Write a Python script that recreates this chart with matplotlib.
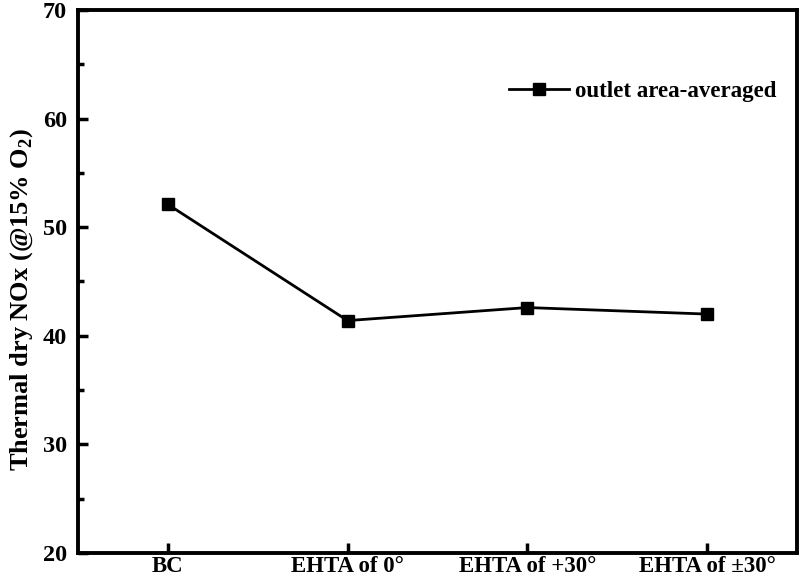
import matplotlib
matplotlib.use('Agg')
import matplotlib.pyplot as plt
from matplotlib.ticker import MultipleLocator

plt.rcParams['font.family'] = ['Liberation Serif', 'DejaVu Serif']
plt.rcParams['font.weight'] = 'bold'
plt.rcParams['mathtext.fontset'] = 'custom'
plt.rcParams['mathtext.rm'] = 'Liberation Serif:bold'
plt.rcParams['mathtext.bf'] = 'Liberation Serif:bold'

cases = ['BC', 'EHTA of 0°', 'EHTA of +30°', 'EHTA of ±30°']
nox = [52.1, 41.4, 42.6, 42.0]

fig = plt.figure(figsize=(8, 5.77), dpi=100)
ax = fig.add_axes([0.0975, 0.0416, 0.8985, 0.9411])

x = list(range(len(cases)))
ax.plot(x, nox, color='black', lw=2, marker='s', ms=9, label='outlet area-averaged')

ax.set_xlim(-0.5, 3.5)
ax.set_ylim(20, 70)
ax.set_xticks(x)
ax.set_xticklabels(cases, fontsize=16.5, fontweight='bold')
ax.yaxis.set_major_locator(MultipleLocator(10))
ax.yaxis.set_minor_locator(MultipleLocator(5))
ax.tick_params(axis='both', which='major', direction='in', length=7, width=2.5, labelsize=17.5)
ax.tick_params(axis='x', which='major', pad=2, labelsize=16.5)
ax.tick_params(axis='y', which='major', pad=8)
ax.tick_params(axis='y', which='minor', direction='in', length=4, width=2.5)
for lab in ax.get_yticklabels():
    lab.set_fontweight('bold')
for s in ax.spines.values():
    s.set_linewidth(2.8)

ax.set_ylabel(r'Thermal dry NOx (@15% O$_2$)', fontsize=19, fontweight='bold')
ax.yaxis.set_label_coords(-0.06, 0.468)

ax.legend(loc='center right', bbox_to_anchor=(0.971, 0.842), bbox_transform=fig.transFigure,
          frameon=False, fontsize=16.5, handlelength=2.6, handletextpad=0.3,
          borderaxespad=0, borderpad=0)

fig.savefig('out.png', dpi=100)
